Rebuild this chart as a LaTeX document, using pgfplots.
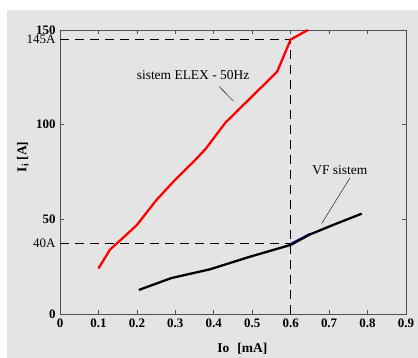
\documentclass[border=0pt]{standalone}
\usepackage{pgfplots}
\pgfplotsset{compat=1.18}
\usepackage{fontspec}
\setmainfont{Liberation Serif}
\definecolor{bg}{RGB}{228,228,228}
\definecolor{axc}{RGB}{80,80,80}
\begin{document}
\begin{tikzpicture}
\path (-60bp,-44bp) rectangle (358bp,314bp);
\fill[bg] (-53bp,-44bp) rectangle (358bp,304bp);
\begin{axis}[
  at={(0,0)}, anchor=south west,
  width=346bp, height=284bp, scale only axis,
  xmin=0, xmax=0.9, ymin=0, ymax=150,
  xtick={0,0.1,...,0.9},
  ytick={0,50,100,150},
  extra y ticks={37.5,145},
  extra y tick labels={40A,145A},
  extra y tick style={tick style={draw=none}, ticklabel style={font=\fontsize{13}{14}\selectfont\mdseries}},
  xticklabels={0,0.1,0.2,0.3,0.4,0.5,0.6,0.7,0.8,0.9},
  yticklabels={0,50,100,150},
  tick align=inside,
  major tick length=4bp,
  axis line style={axc, line width=0.8pt},
  tick style={axc, line width=0.6pt},
  ticklabel style={font=\fontsize{13}{14}\selectfont\bfseries},
  /pgf/number format/assume math mode=true,
  xticklabel style={yshift=-1bp},
  yticklabel style={xshift=-1bp},
  xlabel={\textbf{Io\hspace{0.6em}[mA]}},
  ylabel={\textbf{I\textsubscript{i} [A]}},
  label style={font=\fontsize{13.5}{15}\selectfont},
  xlabel style={at={(axis description cs:0.527,0)}, anchor=north, yshift=-26bp},
  ylabel style={at={(axis description cs:0,0.553)}, anchor=south, yshift=28bp},
  clip=true,
]
\addplot[black, dash pattern=on 9bp off 6bp, line width=0.7pt] coordinates {(0,145) (0.6,145)};
\addplot[black, dash pattern=on 9bp off 6bp, line width=0.7pt] coordinates {(0,37.5) (0.6,37.5)};
\addplot[black, dash pattern=on 9bp off 6bp, line width=0.7pt] coordinates {(0.6,0) (0.6,145)};
\addplot[red, line width=2.3pt, line join=round] coordinates {
(0.1,24) (0.13,34) (0.16,39.5) (0.2,47) (0.25,60) (0.3,71) (0.35,81)
(0.38,87.5) (0.43,101) (0.5,115) (0.555,126) (0.565,128) (0.6,145) (0.645,150)};
\addplot[blue, line width=2pt] coordinates {(0.6,37) (0.65,42.3)};
\addplot[black, line width=2.3pt, line join=round] coordinates {
(0.205,12.7) (0.29,19) (0.39,23.6) (0.49,30) (0.6,36.5) (0.65,42) (0.71,47) (0.785,53)};
\addplot[black, line width=0.4pt] coordinates {(0.414,120.1) (0.451,112.5)};
\addplot[black, line width=0.4pt] coordinates {(0.754,71.8) (0.681,47.9)};
\node[font=\fontsize{13.5}{15}\selectfont] at (axis cs:0.346,126.3) {sistem ELEX - 50Hz};
\node[font=\fontsize{13.5}{15}\selectfont] at (axis cs:0.728,75.8) {VF sistem};
\end{axis}
\end{tikzpicture}
\end{document}
